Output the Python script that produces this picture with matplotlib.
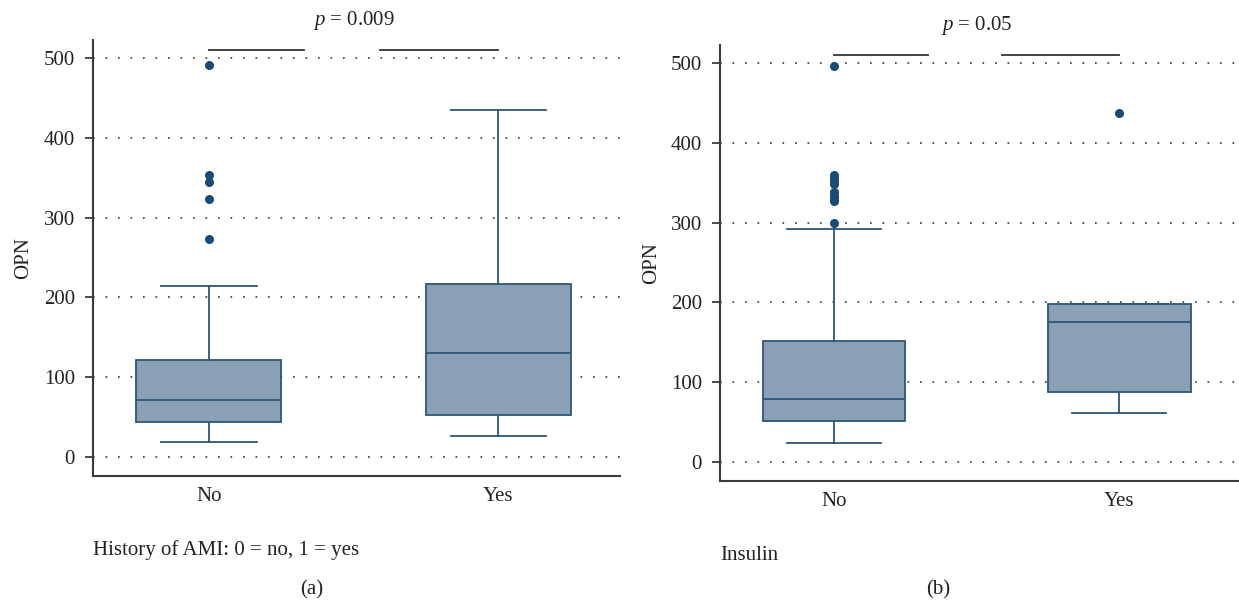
"""OPN box plots by history of AMI and insulin use — two panels."""
import matplotlib
matplotlib.use("Agg")
import matplotlib.pyplot as plt

# ---- data --------------------------------------------------------------
groups = ["No", "Yes"]

# (a) history of AMI
a_q1 = [44, 52]
a_med = [71, 130]
a_q3 = [122, 217]
a_lo = [19, 26]
a_hi = [214, 435]
a_fliers = [[273, 324, 345, 354, 492], []]

# (b) insulin
b_q1 = [51, 88]
b_med = [79, 175]
b_q3 = [152, 198]
b_lo = [24, 61]
b_hi = [292, 198]
b_fliers = [[300, 327, 330, 334, 338, 348, 352, 356, 360, 497], [438]]

yticks = [0, 100, 200, 300, 400, 500]

# ---- style -------------------------------------------------------------
INK = "#222222"
SPINE = "#3c3c3c"
BOX_F = "#8aa1b5"
BOX_E = "#2d5677"
DOT = "#1b4a73"

plt.rcParams.update({
    "font.family": ["Liberation Serif", "DejaVu Serif"],
    "font.size": 15,
    "mathtext.fontset": "custom",
    "mathtext.rm": "Liberation Serif",
    "mathtext.it": "Liberation Serif:italic",
    "figure.facecolor": "white",
})


def panel(rect, q1, med, q3, lo, hi, fliers, ptext, xlabel, xlabel_y):
    ax = fig.add_axes(rect)
    stats = []
    for i in range(len(groups)):
        stats.append(dict(q1=q1[i], med=med[i], q3=q3[i], whislo=lo[i],
                          whishi=hi[i], fliers=fliers[i], label=groups[i]))
    ax.bxp(stats, positions=[1, 2], widths=0.5, capwidths=0.33,
           patch_artist=True, showfliers=True,
           boxprops=dict(facecolor=BOX_F, edgecolor=BOX_E, lw=1.3),
           medianprops=dict(color=BOX_E, lw=1.3),
           whiskerprops=dict(color=BOX_E, lw=1.3),
           capprops=dict(color=BOX_E, lw=1.3),
           flierprops=dict(marker="o", mfc=DOT, mec=DOT, ms=5.5))
    ax.set_xlim(0.6, 2.42)
    ax.set_ylim(-24, 523)
    ax.set_yticks(yticks)
    ax.grid(axis="y", linestyle=(0, (1, 6.5)), color="#333333", lw=1.2)
    ax.set_axisbelow(True)
    for s in ("top", "right"):
        ax.spines[s].set_visible(False)
    for s in ("left", "bottom"):
        ax.spines[s].set_color(SPINE)
        ax.spines[s].set_linewidth(1.5)
    ax.tick_params(axis="x", length=0, pad=8, labelcolor=INK)
    ax.tick_params(axis="y", length=6, width=1.3, color=SPINE, pad=7, labelcolor=INK)
    ax.set_ylabel("OPN", color=INK)
    ax.yaxis.set_label_coords(-0.114, 0.5)

    # significance bracket
    ax.plot([1, 1.33], [510, 510], color="#333333", lw=1.3, clip_on=False)
    ax.plot([1.59, 2], [510, 510], color="#333333", lw=1.3, clip_on=False)
    ax.text(1.5, 548, ptext, ha="center", va="center", color=INK, clip_on=False)

    fig.text(rect[0], xlabel_y, xlabel, ha="left", va="center", color=INK)
    return ax


fig = plt.figure(figsize=(12.39, 6.01), dpi=100)

panel([0.0751, 0.208, 0.4253, 0.7255], a_q1, a_med, a_q3, a_lo, a_hi, a_fliers,
      r"$p$ = 0.009", "History of AMI: 0 = no, 1 = yes", 1 - 550 / 601)
panel([0.5811, 0.1997, 0.4189, 0.7254], b_q1, b_med, b_q3, b_lo, b_hi, b_fliers,
      r"$p$ = 0.05", "Insulin", 1 - 555 / 601)

fig.text(312 / 1239, 1 - 590 / 601, "(a)", ha="center", va="center", color=INK)
fig.text(938 / 1239, 1 - 590 / 601, "(b)", ha="center", va="center", color=INK)

fig.savefig("out.png", dpi=100)
